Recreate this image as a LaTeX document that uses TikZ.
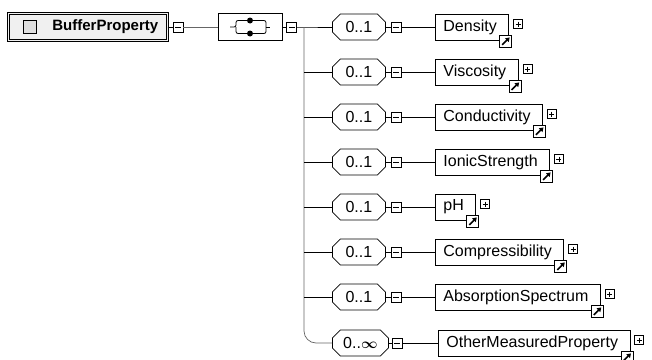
\documentclass[tikz,border=0pt]{standalone}
\usepackage{amsmath}
\usepackage{fontspec}
\newfontfamily\uifont{Liberation Sans}
\usetikzlibrary{shapes.misc, arrows.meta, positioning}

\begin{document}
\begin{tikzpicture}[
    x=1pt, y=-1pt,
    every node/.style={font=\uifont\fontsize{16}{19}\selectfont},
    rootbox/.style={
        rectangle, draw, thick, double=gray!12, double distance=1pt,
        fill=gray!12, minimum height=27pt, inner xsep=9pt, inner ysep=0pt,
        anchor=west, execute at begin node=\hspace{35pt},
        font=\uifont\bfseries\fontsize{15}{18}\selectfont
    },
    seqbox/.style={
        rectangle, draw, thick, minimum width=64pt, minimum height=27pt
    },
    occur/.style={
        chamfered rectangle, draw, thick, chamfered rectangle xsep=4pt,
        chamfered rectangle ysep=4pt, minimum width=53pt, minimum height=26pt,
        inner sep=0pt, anchor=west
    },
    elem/.style={
        rectangle, draw, thick, minimum height=26pt, inner xsep=8pt,
        inner ysep=0pt, anchor=west, execute at end node=\hspace{4pt}
    },
    minusbox/.style={
        rectangle, draw, thick, fill=white, minimum size=10pt, inner sep=0pt,
        path picture={\draw[thick] ([xshift=2pt]path picture bounding box.west)
            -- ([xshift=-2pt]path picture bounding box.east);}
    },
    plusbox/.style={
        minusbox, minimum size=9pt,
        path picture={\draw[thick] ([xshift=2pt]path picture bounding box.west)
            -- ([xshift=-2pt]path picture bounding box.east);
            \draw[thick] ([yshift=-2pt]path picture bounding box.north)
            -- ([yshift=2pt]path picture bounding box.south);}
    },
    linkicon/.style={
        rectangle, draw, thick, fill=white, minimum size=12pt, inner sep=0pt,
        path picture={\draw[line width=1.6pt, -{Triangle[length=4pt,width=5pt]}]
            ([shift={(2.5pt,2.5pt)}]path picture bounding box.south west)
            -- ([shift={(-2pt,-2pt)}]path picture bounding box.north east);}
    },
    wire/.style={line width=0.7pt},
    trunk/.style={line width=0.7pt, black!60}
]
\useasboundingbox (0,0) rectangle (652,359);

%% Root element
\node (root) [rootbox] at (8,27) {BufferProperty};
\node (rooticon) [rectangle, draw, fill=gray!25, minimum size=13pt, inner sep=0pt]
    at (30,27) {};
\node (m0) [minusbox, right=5pt of root] {};

%% Sequence compositor
\node (seq) [seqbox] at (250,27) {};
\draw[thick, rounded corners=2pt]
    ([xshift=-20pt]seq.center) -- ([xshift=-14pt]seq.center)
    -- ([shift={(-14pt,6.5pt)}]seq.center) -- ([shift={(16pt,6.5pt)}]seq.center)
    -- ([shift={(16pt,-6.5pt)}]seq.center) -- ([shift={(-14pt,-6.5pt)}]seq.center)
    -- ([xshift=-14pt]seq.center);
\draw[thick] ([xshift=16pt]seq.center) -- ([xshift=20pt]seq.center);
\fill ([shift={(0pt,6.5pt)}]seq.center) circle (3pt)
      ([shift={(0pt,-6.5pt)}]seq.center) circle (3pt);
\node (m1) [minusbox, right=4pt of seq] {};
\coordinate (fork) at (304,27);

%% Occurrence octagons
\node (o1) [occur] at (332,27)  {0..1};
\node (o2) [occur] at (332,72)  {0..1};
\node (o3) [occur] at (332,117) {0..1};
\node (o4) [occur] at (332,162) {0..1};
\node (o5) [occur] at (332,207) {0..1};
\node (o6) [occur] at (332,252) {0..1};
\node (o7) [occur] at (332,297) {0..1};
\node (o8) [occur, minimum width=56pt] at (332,343)
    {0..{\fontsize{14}{16}\selectfont$\boldsymbol{\infty}$}};

\node (n1) [minusbox, right=5pt of o1] {};
\node (n2) [minusbox, right=5pt of o2] {};
\node (n3) [minusbox, right=5pt of o3] {};
\node (n4) [minusbox, right=5pt of o4] {};
\node (n5) [minusbox, right=5pt of o5] {};
\node (n6) [minusbox, right=5pt of o6] {};
\node (n7) [minusbox, right=5pt of o7] {};
\node (n8) [minusbox, right=3pt of o8] {};

%% Child elements
\node (e1) [elem] at (435,27)  {Density};
\node (e2) [elem] at (435,72)  {Viscosity};
\node (e3) [elem] at (435,117) {Conductivity};
\node (e4) [elem] at (435,162) {IonicStrength};
\node (e5) [elem] at (435,207) {pH};
\node (e6) [elem] at (435,252) {Compressibility};
\node (e7) [elem] at (435,297) {AbsorptionSpectrum};
\node (e8) [elem] at (438,343) {OtherMeasuredProperty};

\node (p1) [plusbox, right=4pt of e1.east, yshift=3pt] {};
\node (p2) [plusbox, right=4pt of e2.east, yshift=3pt] {};
\node (p3) [plusbox, right=4pt of e3.east, yshift=3pt] {};
\node (p4) [plusbox, right=4pt of e4.east, yshift=3pt] {};
\node (p5) [plusbox, right=4pt of e5.east, yshift=3pt] {};
\node (p6) [plusbox, right=4pt of e6.east, yshift=3pt] {};
\node (p7) [plusbox, right=4pt of e7.east, yshift=3pt] {};
\node (p8) [plusbox, right=4pt of e8.east, yshift=3pt] {};

\node (l1) [linkicon, xshift=-3.5pt, yshift=-1pt] at (e1.south east) {};
\node (l2) [linkicon, xshift=-3.5pt, yshift=-1pt] at (e2.south east) {};
\node (l3) [linkicon, xshift=-3.5pt, yshift=-1pt] at (e3.south east) {};
\node (l4) [linkicon, xshift=-3.5pt, yshift=-1pt] at (e4.south east) {};
\node (l5) [linkicon, xshift=-3.5pt, yshift=-1pt] at (e5.south east) {};
\node (l6) [linkicon, xshift=-3.5pt, yshift=-1pt] at (e6.south east) {};
\node (l7) [linkicon, xshift=-3.5pt, yshift=-1pt] at (e7.south east) {};
\node (l8) [linkicon, xshift=-3.5pt, yshift=-1pt] at (e8.south east) {};

%% Connectors
\draw[wire] (root.east) -- (m0.west);
\draw[trunk] (m0.east) -- (seq.west);
\draw[wire] (seq.east) -- (m1.west);
\draw[wire] (m1.east) -- (fork) -- (o1.west);
\draw[trunk, rounded corners=12pt] (fork) |- (o8.west);
\draw[wire] (fork |- o2.west) -- (o2.west);
\draw[wire] (fork |- o3.west) -- (o3.west);
\draw[wire] (fork |- o4.west) -- (o4.west);
\draw[wire] (fork |- o5.west) -- (o5.west);
\draw[wire] (fork |- o6.west) -- (o6.west);
\draw[wire] (fork |- o7.west) -- (o7.west);

\draw[wire] (o1.east) -- (n1.west);  \draw[wire] (n1.east) -- (e1.west);
\draw[wire] (o2.east) -- (n2.west);  \draw[wire] (n2.east) -- (e2.west);
\draw[wire] (o3.east) -- (n3.west);  \draw[wire] (n3.east) -- (e3.west);
\draw[wire] (o4.east) -- (n4.west);  \draw[wire] (n4.east) -- (e4.west);
\draw[wire] (o5.east) -- (n5.west);  \draw[wire] (n5.east) -- (e5.west);
\draw[wire] (o6.east) -- (n6.west);  \draw[wire] (n6.east) -- (e6.west);
\draw[wire] (o7.east) -- (n7.west);  \draw[wire] (n7.east) -- (e7.west);
\draw[wire] (o8.east) -- (n8.west);  \draw[wire] (n8.east) -- (e8.west);

\end{tikzpicture}
\end{document}
